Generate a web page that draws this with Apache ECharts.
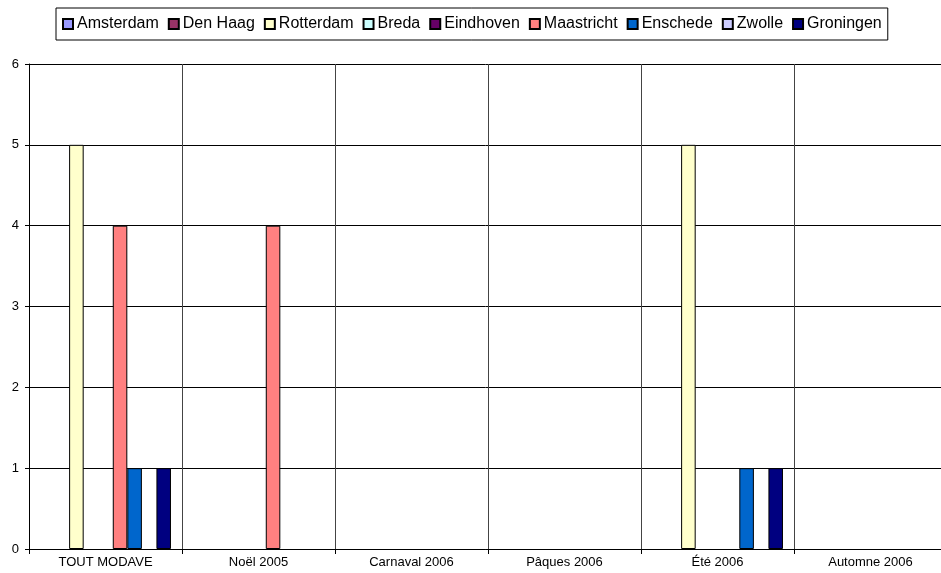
<!DOCTYPE html>
<html>
<head>
<meta charset="utf-8">
<script src="https://cdn.jsdelivr.net/npm/echarts@6/dist/echarts.min.js"></script>
<style>html,body{margin:0;padding:0;background:#fff}#c{width:941px;height:573px}</style>
</head>
<body>
<div id="c"></div>
<script>
const categories = ["TOUT MODAVE", "Noël 2005", "Carnaval 2006", "Pâques 2006", "Été 2006", "Automne 2006"];
const seriesNames = ["Amsterdam", "Den Haag", "Rotterdam", "Breda", "Eindhoven", "Maastricht", "Enschede", "Zwolle", "Groningen"];
const seriesColors = ["#9999FF", "#993366", "#FFFFCC", "#CCFFFF", "#660066", "#FF8080", "#0066CC", "#CCCCFF", "#000080"];
const amsterdam  = [null, null, null, null, null, null];
const denHaag    = [null, null, null, null, null, null];
const rotterdam  = [5, null, null, null, 5, null];
const breda      = [null, null, null, null, null, null];
const eindhoven  = [null, null, null, null, null, null];
const maastricht = [4, 4, null, null, null, null];
const enschede   = [1, null, null, null, 1, null];
const zwolle     = [null, null, null, null, null, null];
const groningen  = [1, null, null, null, 1, null];
const yTicks = [0, 1, 2, 3, 4, 5, 6];

const values = [amsterdam, denHaag, rotterdam, breda, eindhoven, maastricht, enschede, zwolle, groningen];
const chart = echarts.init(document.getElementById('c'));
chart.setOption({
  animation: false,
  textStyle: { fontFamily: 'Liberation Sans, Arial, sans-serif' },
  legend: {
    top: 8, left: 56,
    data: seriesNames,
    itemWidth: 10, itemHeight: 10, itemGap: 9,
    icon: 'rect',
    borderColor: '#000', borderWidth: 1, padding: [8, 6, 8, 6],
    textStyle: { fontSize: 16, color: '#000', padding: [0, 0, 0, -1] }
  },
  grid: { left: 29, top: 64, width: 918, height: 485, outerBoundsMode: 'none', containLabel: false },
  xAxis: {
    type: 'category', data: categories,
    axisLine: { lineStyle: { color: '#000' } },
    axisTick: { show: true, length: 5, lineStyle: { color: '#000' } },
    axisLabel: { color: '#000', fontSize: 13, margin: 7 },
    splitLine: { show: true, interval: 0, lineStyle: { color: '#444' } }
  },
  yAxis: {
    type: 'value', min: 0, max: 6, interval: 1,
    axisLine: { show: true, lineStyle: { color: '#000' } },
    axisTick: { show: true, length: 4, lineStyle: { color: '#000' } },
    axisLabel: { color: '#000', fontSize: 13, margin: 10,
      formatter: v => yTicks.includes(v) ? String(v) : '' },
    splitLine: { show: true, lineStyle: { color: '#000' } }
  },
  series: seriesNames.map((n, i) => ({
    name: n, type: 'bar', data: values[i],
    barGap: '0%', barCategoryGap: '14.4%',
    itemStyle: { color: seriesColors[i], borderColor: '#000', borderWidth: 1 }
  }))
});
</script>
</body>
</html>
